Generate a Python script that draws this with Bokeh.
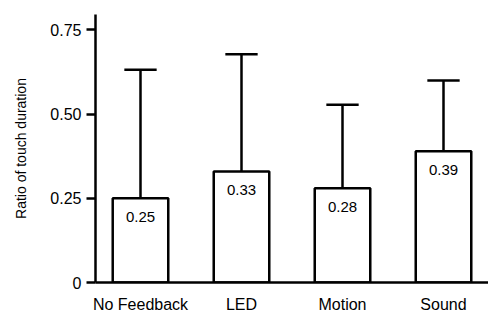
from bokeh.plotting import figure
from bokeh.models import Range1d, FixedTicker, ColumnDataSource
from bokeh.embed import file_html
from bokeh.resources import INLINE
from bokeh.core.properties import value

categories = ["No Feedback", "LED", "Motion", "Sound"]
means = [0.25, 0.33, 0.28, 0.39]
uppers = [0.632, 0.678, 0.528, 0.600]
labels = ["0.25", "0.33", "0.28", "0.39"]
y_ticks = [0, 0.25, 0.5, 0.75]
y_tick_labels = ["0", "0.25", "0.50", "0.75"]

xs = list(range(len(categories)))
FONT = "Liberation Sans"

p = figure(width=488, height=315, output_backend="svg", toolbar_location=None,
           x_range=Range1d(-0.4455, 3.4455), y_range=Range1d(0, 0.796),
           min_border_left=95, min_border_right=0, min_border_top=14, min_border_bottom=24)
p.outline_line_color = None
p.grid.visible = False
p.background_fill_color = "white"

src = ColumnDataSource(dict(x=xs, top=means, up=uppers, lab=labels,
                            cl=[x - 0.16 for x in xs], cr=[x + 0.16 for x in xs]))

p.segment(x0="x", y0="top", x1="x", y1="up", source=src, line_color="black", line_width=2.5)
p.segment(x0="cl", y0="up", x1="cr", y1="up", source=src, line_color="black", line_width=2.5)
p.vbar(x="x", top="top", bottom=0, width=0.55, source=src, fill_color="white",
       line_color="black", line_width=2.5)
p.text(x="x", y="top", text="lab", source=src, text_align="center", text_baseline="top",
       y_offset=14, text_font=value(FONT), text_font_size="15px", text_color="black")

p.xaxis.ticker = FixedTicker(ticks=xs)
p.xaxis.major_label_overrides = {i: c for i, c in enumerate(categories)}
p.xaxis.major_tick_line_color = None
p.xaxis.minor_tick_line_color = None
p.xaxis.axis_line_width = 2.5
p.xaxis.axis_line_color = "black"
p.xaxis.major_label_text_font = FONT
p.xaxis.major_label_text_font_size = "16px"
p.xaxis.major_label_text_color = "black"
p.xaxis.major_label_standoff = 7

p.yaxis.ticker = FixedTicker(ticks=y_ticks)
p.yaxis.major_label_overrides = {t: l for t, l in zip(y_ticks, y_tick_labels)}
p.yaxis.minor_tick_line_color = None
p.yaxis.axis_line_width = 2.5
p.yaxis.axis_line_color = "black"
p.yaxis.major_tick_line_width = 2.5
p.yaxis.major_tick_line_color = "black"
p.yaxis.major_tick_out = 9
p.yaxis.major_tick_in = 0
p.yaxis.major_label_standoff = 5
p.yaxis.major_label_text_font = FONT
p.yaxis.major_label_text_font_size = "16px"
p.yaxis.major_label_text_color = "black"
p.yaxis.axis_label = "Ratio of touch duration"
p.yaxis.axis_label_text_font = FONT
p.yaxis.axis_label_text_font_size = "14px"
p.yaxis.axis_label_text_font_style = "normal"
p.yaxis.axis_label_text_color = "black"
p.yaxis.axis_label_standoff = 18

open("out.html", "w").write(file_html(p, INLINE))
